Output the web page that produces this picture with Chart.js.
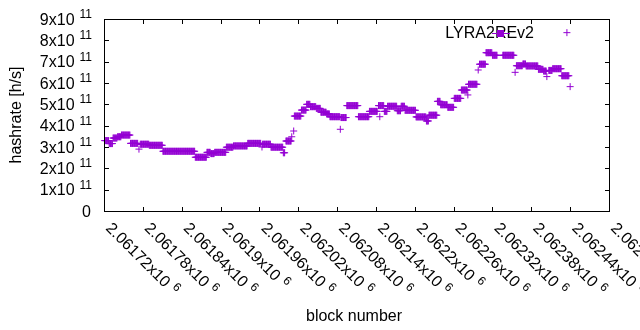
<!DOCTYPE html>
<html>
<head>
<meta charset="utf-8">
<script src="https://cdn.jsdelivr.net/npm/chart.js@4"></script>
<style>
  html, body { margin: 0; padding: 0; background: #fff; }
  canvas { display: block; }
</style>
</head>
<body>
<canvas id="chart" width="640" height="330"></canvas>
<script>
// hashrate holds steady for runs of blocks: first block, last block, value (x10^11 h/s)
const runStart = [2061721, 2061728, 2061734, 2061741, 2061747, 2061761, 2061774, 2061776, 2061790, 2061811,
    2061861, 2061879, 2061885, 2061891, 2061909, 2061920, 2061942, 2061964, 2061965, 2061978,
    2061997, 2062001, 2062010, 2062013, 2062014, 2062025, 2062033, 2062039, 2062048, 2062055,
    2062064, 2062069, 2062085, 2062086, 2062095, 2062113, 2062130, 2062146, 2062144, 2062153,
    2062158, 2062173, 2062179, 2062185, 2062202, 2062218, 2062222, 2062235, 2062240, 2062251,
    2062261, 2062272, 2062282, 2062283, 2062298, 2062300, 2062310, 2062320, 2062336, 2062355,
    2062357, 2062367, 2062372, 2062391, 2062399, 2062404, 2062407, 2062413, 2062427, 2062435,
    2062440];
const runEnd = [2061727, 2061733, 2061740, 2061746, 2061760, 2061772, 2061774, 2061789, 2061810, 2061860,
    2061878, 2061884, 2061890, 2061908, 2061919, 2061941, 2061962, 2061964, 2061977, 2061996,
    2061999, 2062009, 2062010, 2062013, 2062024, 2062032, 2062038, 2062047, 2062054, 2062063,
    2062068, 2062084, 2062085, 2062094, 2062112, 2062129, 2062142, 2062146, 2062152, 2062157,
    2062172, 2062178, 2062184, 2062201, 2062217, 2062221, 2062234, 2062239, 2062250, 2062260,
    2062271, 2062281, 2062282, 2062296, 2062298, 2062309, 2062319, 2062327, 2062353, 2062355,
    2062366, 2062371, 2062390, 2062398, 2062403, 2062404, 2062412, 2062426, 2062438, 2062435,
    2062440];
const runRate = [3.30, 3.16, 3.42, 3.48, 3.56, 3.17, 2.90, 3.13, 3.08, 2.80,
    2.52, 2.75, 2.69, 2.75, 2.99, 3.05, 3.17, 3.00, 3.13, 2.99,
    2.73, 3.28, 3.48, 3.75, 4.45, 4.73, 5.00, 4.89, 4.81, 4.63,
    4.55, 4.42, 3.83, 4.38, 4.94, 4.42, 4.67, 4.42, 4.94, 4.67,
    4.91, 4.70, 4.91, 4.72, 4.41, 4.22, 4.49, 5.14, 4.98, 4.86,
    5.28, 5.67, 5.44, 5.94, 6.61, 6.88, 7.42, 7.30, 7.30, 6.50,
    6.81, 6.89, 6.80, 6.64, 6.56, 6.30, 6.59, 6.67, 6.34, 8.36,
    5.83];

const seriesName = 'LYRA2REv2';
const xTickLabels = ['2.06172', '2.06178', '2.06184', '2.0619', '2.06196', '2.06202', '2.06208',
    '2.06214', '2.0622', '2.06226', '2.06232', '2.06238', '2.06244', '2.0625'];
const yTickValues = [0, 1, 2, 3, 4, 5, 6, 7, 8, 9];

const PURPLE = '#9400d3';
const FONT = '"Liberation Sans", Arial, sans-serif';

// one point per block inside each run
const points = [];
runStart.forEach((start, i) => {
    for (let b = start; b <= runEnd[i]; b++) {
        points.push({ x: b, y: runRate[i] });
    }
});

const gnuplotFrame = {
    id: 'gnuplotFrame',
    afterDraw(chart) {
        const ctx = chart.ctx;
        const { left, right, top, bottom } = chart.chartArea;
        const xs = chart.scales.x;
        const ys = chart.scales.y;

        ctx.save();
        ctx.strokeStyle = '#000';
        ctx.lineWidth = 1;
        ctx.strokeRect(left + 0.5, top + 0.5, right - left, bottom - top);

        ctx.beginPath();
        xTickLabels.forEach(lbl => {
            const px = Math.round(xs.getPixelForValue(parseFloat(lbl) * 1e6)) + 0.5;
            ctx.moveTo(px, bottom + 0.5); ctx.lineTo(px, bottom - 4);
            ctx.moveTo(px, top + 0.5); ctx.lineTo(px, top + 5);
        });
        yTickValues.forEach(v => {
            const py = Math.round(ys.getPixelForValue(v)) + 0.5;
            ctx.moveTo(left + 0.5, py); ctx.lineTo(left + 5, py);
            ctx.moveTo(right + 0.5, py); ctx.lineTo(right - 4, py);
        });
        ctx.stroke();

        ctx.fillStyle = '#000';
        ctx.textBaseline = 'alphabetic';

        // y tick labels  Nx10^11
        yTickValues.forEach(v => {
            const py = ys.getPixelForValue(v);
            if (v === 0) {
                ctx.font = '16px ' + FONT;
                ctx.textAlign = 'right';
                ctx.fillText('0', 91, py + 5.5);
                return;
            }
            ctx.textAlign = 'right';
            ctx.font = '12px ' + FONT;
            const supW = ctx.measureText('11').width;
            ctx.fillText('11', 92, py - 1);
            ctx.font = '16px ' + FONT;
            ctx.fillText(v + 'x10', 92 - supW - 5, py + 5.5);
        });

        // x tick labels, rotated down to the right
        xTickLabels.forEach(lbl => {
            const px = xs.getPixelForValue(parseFloat(lbl) * 1e6);
            ctx.save();
            ctx.translate(px + 1, 229);
            ctx.rotate(Math.PI / 4);
            ctx.textAlign = 'left';
            ctx.font = '16px ' + FONT;
            const main = lbl + 'x10';
            ctx.fillText(main, 0, 0);
            const w = ctx.measureText(main).width;
            ctx.font = '12px ' + FONT;
            ctx.fillText('6', w + 5, -6);
            ctx.restore();
        });

        // axis titles
        ctx.font = '16px ' + FONT;
        ctx.textAlign = 'center';
        ctx.fillText('block number', 354, 321);
        ctx.save();
        ctx.translate(17, 115);
        ctx.rotate(-Math.PI / 2);
        ctx.textBaseline = 'middle';
        ctx.fillText('hashrate [h/s]', 0, 0);
        ctx.restore();

        // key
        ctx.textAlign = 'right';
        ctx.fillText(seriesName, 534, 37.5);
        ctx.strokeStyle = PURPLE;
        ctx.fillStyle = PURPLE;
        ctx.beginPath();
        ctx.moveTo(492, 33.5); ctx.lineTo(510, 33.5);
        ctx.stroke();
        ctx.fillRect(497, 30, 7, 7);

        ctx.restore();
    }
};

const chart = new Chart(document.getElementById('chart'), {
    type: 'scatter',
    data: {
        datasets: [{
            label: seriesName,
            data: points,
            pointStyle: 'cross',
            pointRadius: 3.5,
            pointBorderWidth: 1,
            borderColor: PURPLE,
            backgroundColor: PURPLE,
            clip: false
        }]
    },
    options: {
        responsive: false,
        animation: false,
        devicePixelRatio: 1,
        layout: { padding: { left: 104, right: 31, top: 19, bottom: 119 } },
        plugins: { legend: { display: false }, tooltip: { enabled: false } },
        scales: {
            x: { type: 'linear', display: false, min: 2061720, max: 2062500 },
            y: { type: 'linear', display: false, min: 0, max: 9 }
        }
    },
    plugins: [gnuplotFrame]
});
</script>
</body>
</html>
